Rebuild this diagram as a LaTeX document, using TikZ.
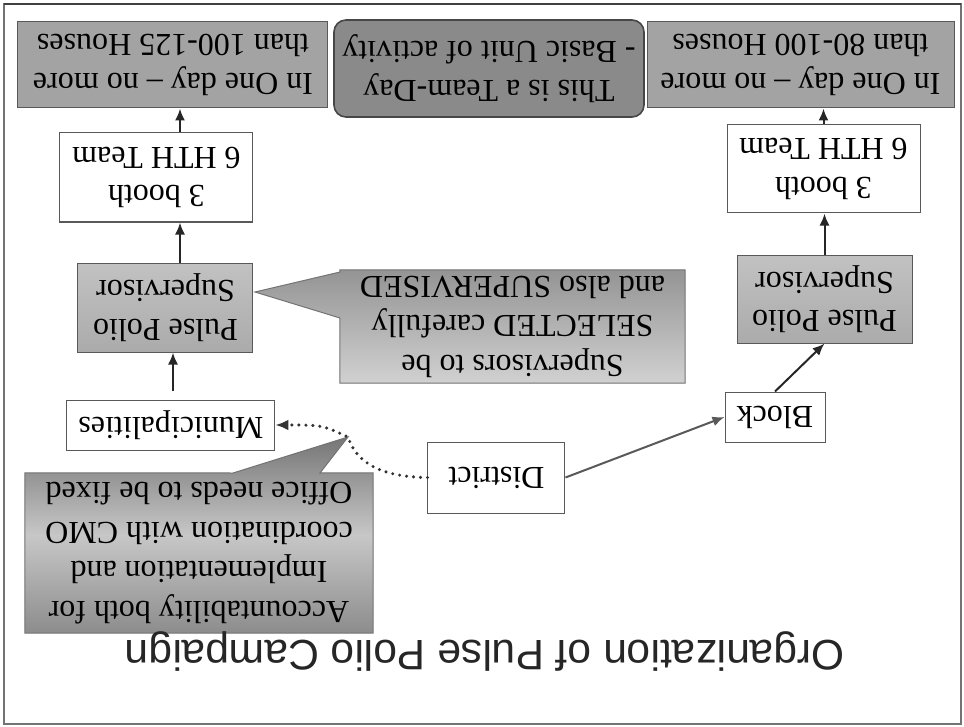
\documentclass[tikz,border=0pt]{standalone}
\usepackage{fontspec}
\setmainfont{Liberation Serif}
\newfontfamily\titlefont{Liberation Sans}
\usetikzlibrary{arrows.meta,backgrounds}

\tikzset{
  box/.style={draw=black!65, line width=1pt, inner sep=0pt, align=center,
    font=\fontsize{32}{38.5}\selectfont},
  whitebox/.style={box, fill=white},
  graybox/.style={box, fill=black!36},
  supbox/.style={box, top color=black!24, bottom color=black!33},
  dayloop/.style={box, fill=black!46, rounded corners=12pt, draw=black!72, line width=1.6pt},
  note/.style={inner sep=0pt, align=center, font=\fontsize{32}{39.5}\selectfont},
  link/.style={-{Latex[length=12pt,width=10pt]}, line width=2pt, draw=black!85},
  dots/.style={-{Latex[length=13pt,width=11pt]}, line width=3.4pt, line cap=round,
    dash pattern=on 0pt off 7pt, draw=black!80},
}

\begin{document}
\begin{tikzpicture}[x=1pt, y=1pt, rotate=180, transform shape]
\useasboundingbox (-482,-363) rectangle (482,363);
% slide frame
\draw[black!55, line width=1.2pt] (-479,-359) rectangle (478,361);
\draw[black!75, line width=2.5pt] (-479,-359) -- (478,-359);

\node[font=\titlefont\fontsize{42.6}{50}\selectfont, text=black!85, anchor=base] (title) at (-3,277)
  {Organization of Pulse Polio Campaign};

% tree
\node[whitebox, minimum width=137pt, minimum height=71pt] (district) at (-14.5,114.5) {District};
\node[whitebox, minimum width=208pt, minimum height=50pt] (municip) at (311,62) {Municipalities};
\node[whitebox, minimum width=100pt, minimum height=50pt] (block) at (-293,54) {Block};

\node[supbox, minimum width=175pt, minimum height=89pt] (supM) at (316.5,-55.5) {Pulse Polio\\Supervisor};
\node[supbox, minimum width=175pt, minimum height=88pt] (supB) at (-342.5,-64) {Pulse Polio\\Supervisor};
\node[whitebox, minimum width=193pt, minimum height=89pt] (boothM) at (325.5,-185.5) {3 booth\\6 HTH Team};
\node[whitebox, minimum width=193pt, minimum height=88pt] (boothB) at (-341.5,-194) {3 booth\\6 HTH Team};
\node[graybox, minimum width=310pt, minimum height=86pt] (houseM) at (309,-298) {In One day -- no more\\than 100-125 Houses};
\node[graybox, minimum width=307pt, minimum height=86pt] (houseB) at (-318.5,-298) {In One day -- no more\\than 80-100 Houses};
\node[dayloop, minimum width=310pt, minimum height=97pt] (teamday) at (-7,-294.5) {This is a Team-Day\\- Basic Unit of activity};

% callouts
\node[note, minimum width=345pt, minimum height=113pt] (noteSup) at (-30.5,-36.5)
  {Supervisors to be\\SELECTED carefully\\and also SUPERVISED};
\node[note, minimum width=348pt, minimum height=160pt] (noteAcc) at (283,190)
  {Accountability both for\\Implementation and\\coordination with CMO\\Office needs to be fixed};
\coordinate (tipS) at (227,-71);
\coordinate (tipA) at (134,74);
\begin{scope}[on background layer]
  \path[draw=black!55, line width=1pt, top color=black!42, bottom color=black!18]
    (noteSup.north west) -- (noteSup.north east) -- (142,-45) -- (tipS) -- (142,-91)
    -- (noteSup.south east) -- (noteSup.south west) -- cycle;
  \path[draw=black!55, line width=1pt, top color=black!54, bottom color=black!45, middle color=black!22]
    (noteAcc.north west) -- (noteAcc.north east) -- (noteAcc.south east) -- (249,110)
    -- (tipA) -- (162,110) -- (noteAcc.south west) -- cycle;
\end{scope}

% links
\coordinate (colM) at (302,0);
\coordinate (colMun) at (309,0);
\draw[link, draw=black!65] (district.west) -- (block.east);
\draw[link] (block.south) -- (supB.north);
\draw[link] (supB.south) -- (supB.south |- boothB.north);
\draw[link] (boothB.south) -- (boothB.south |- houseB.north);
\draw[link, shorten <=9pt] (municip.south -| colMun) -- (supM.north -| colMun);
\draw[link] (supM.south -| colM) -- (boothM.north -| colM);
\draw[link] (boothM.south -| colM) -- (houseM.north -| colM);
\draw[dots] (district.east) .. controls (112,114) and (128,92) .. (tipA)
  .. controls (160,62) .. (municip.west);
\end{tikzpicture}
\end{document}
